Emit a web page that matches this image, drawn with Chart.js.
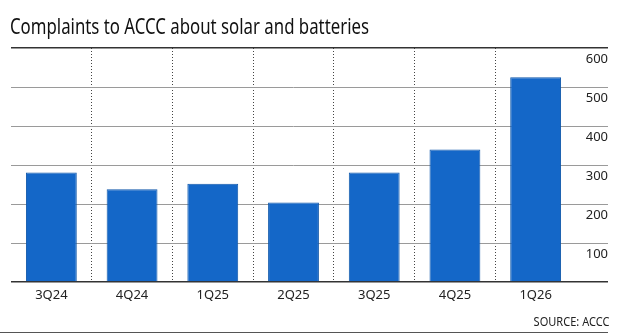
<!DOCTYPE html>
<html>
<head>
<meta charset="utf-8">
<script src="https://cdn.jsdelivr.net/npm/chart.js@4/dist/chart.umd.min.js"></script>
<style>
	body { margin: 0; background: #fff; }
	#wrap { position: relative; width: 620px; height: 336px; overflow: hidden; }
	#title { position: absolute; left: 10px; top: 16px; font-family: "Noto Sans", sans-serif; font-size: 21px; line-height: 21px; color: #111; white-space: nowrap; transform: scaleX(0.8); transform-origin: 0 0; }
	#source { position: absolute; right: 11px; top: 314px; font-family: "Noto Sans", sans-serif; font-size: 12px; line-height: 16px; color: #222; transform: scaleX(0.92); transform-origin: 100% 0; }
	#rule { position: absolute; left: 0; top: 332px; width: 608px; height: 0; border-top: 1.5px solid #555; }
	canvas { position: absolute; left: 0; top: 0; }
</style>
</head>
<body>
<div id="wrap">
	<canvas id="chart" width="620" height="336"></canvas>
	<div id="title">Complaints to ACCC about solar and batteries</div>
	<div id="source">SOURCE: ACCC</div>
	<div id="rule"></div>
</div>
<script>
var quarters = ['3Q24', '4Q24', '1Q25', '2Q25', '3Q25', '4Q25', '1Q26'];
var complaints = [281, 238, 252, 204, 281, 340, 525];
var yTicks = [0, 100, 200, 300, 400, 500, 600];

var ctx = document.getElementById("chart").getContext("2d");

var chart = new Chart(ctx, {
	type: 'bar',
	data: {
		labels: quarters,
		datasets: [{
			label: 'Complaints',
			data: complaints,
			backgroundColor: '#1467c8',
			borderColor: '#1058aa',
			borderWidth: 1,
			barPercentage: 0.63,
			categoryPercentage: 1
		}]
	},
	options: {
		responsive: false,
		animation: false,
		layout: {
			padding: { left: 11, right: 12, top: 48, bottom: 30 }
		},
		plugins: {
			legend: { display: false },
			tooltip: { enabled: false }
		},
		scales: {
			x: {
				grid: {
					offset: true,
					drawTicks: false,
					lineWidth: 1,
					color: function(c) {
						if (c.type === 'tick' && c.index > 0) return '#444';
						return 'rgba(0,0,0,0)';
					}
				},
				border: { display: false, dash: [1, 2] },
				ticks: {
					padding: 5,
					color: '#222',
					font: { family: 'Noto Sans', size: 13 }
				},
				afterFit: function(scale) {
					scale.height = 24;
				}
			},
			y: {
				position: 'right',
				min: yTicks[0],
				max: yTicks[yTicks.length - 1],
				afterBuildTicks: function(scale) {
					scale.ticks = yTicks.map(function(v) { return { value: v }; });
				},
				grid: {
					tickLength: 32,
					color: function(c) {
						var v = c.tick ? c.tick.value : null;
						return (v === 0 || v === 600) ? '#333' : '#9a9a9a';
					},
					lineWidth: function(c) {
						var v = c.tick ? c.tick.value : null;
						return (v === 0 || v === 600) ? 1.5 : 1;
					}
				},
				border: { display: false },
				ticks: {
					crossAlign: 'far',
					labelOffset: 11,
					padding: 0,
					color: '#222',
					font: { family: 'Noto Sans', size: 13 },
					callback: function(v) { return v === 0 ? '' : v; }
				},
				afterFit: function(scale) {
					scale.width = 32;
				}
			}
		}
	}
});
</script>
</body>
</html>
